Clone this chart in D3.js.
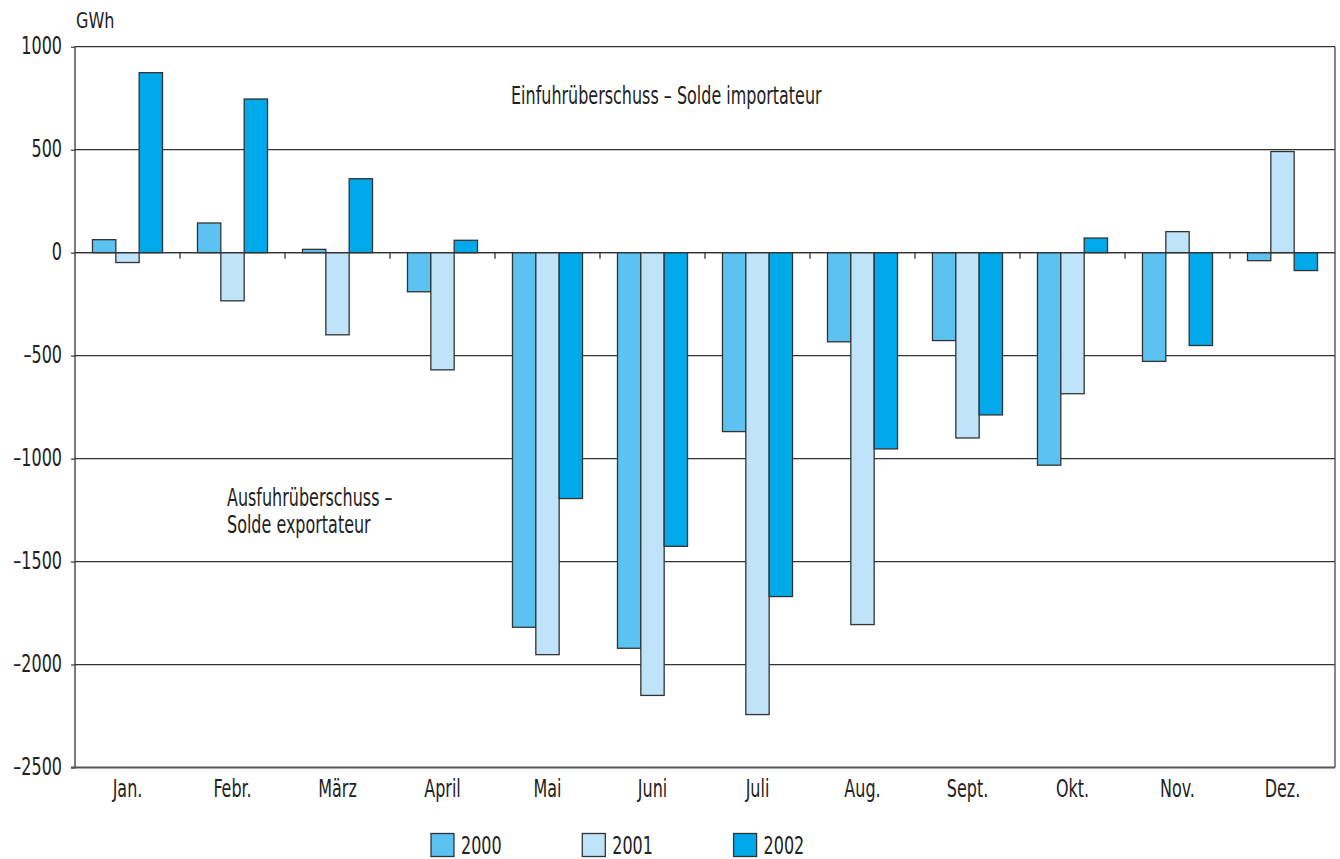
<!DOCTYPE html>
<html><head><meta charset="utf-8">
<script src="https://cdn.jsdelivr.net/npm/d3@7"></script>
<style>
body{margin:0;background:#fff;}
text{font-family:"DejaVu Sans Condensed","DejaVu Sans","Roboto",sans-serif;fill:#222;}
</style></head><body>
<svg id="c" width="1340" height="859"></svg>
<script>
const months = ["Jan.","Febr.","März","April","Mai","Juni","Juli","Aug.","Sept.","Okt.","Nov.","Dez."];
const years = ["2000","2001","2002"];
const v2000 = [63,144,16,-190,-1819,-1921,-869,-433,-427,-1032,-528,-39];
const v2001 = [-48,-234,-399,-569,-1952,-2150,-2243,-1806,-900,-685,102,491];
const v2002 = [874,746,359,60,-1194,-1426,-1670,-953,-788,71,-451,-87];
const yTicks = [1000,500,0,-500,-1000,-1500,-2000,-2500];
const colors = ["#5bc2f2","#bfe3f8","#00a9e9"];

const series = [v2000,v2001,v2002];
const svg = d3.select("#c");
const L=75,R=1335,T=46.7,B=767.5;
const x = d3.scaleBand().domain(months).range([L,R]).paddingInner(0.333).paddingOuter(0.1665);
const x0 = d3.scaleBand().domain(months).range([L,R]);
const xs = d3.scaleBand().domain(years).range([0,x.bandwidth()]);
const y = d3.scaleLinear().domain([-2500,1000]).range([B,T]);
const FS = "24px";

// gridlines
svg.append("g").selectAll("line").data(yTicks.filter(d=>d!==-2500&&d!==1000)).join("line")
  .attr("x1",L).attr("x2",R).attr("y1",d=>y(d)).attr("y2",d=>y(d))
  .attr("stroke","#333").attr("stroke-width",1.2);

// y axis
const ya = svg.append("g").attr("transform",`translate(${L},0)`)
  .call(d3.axisLeft(y).tickValues(yTicks).tickSize(4).tickPadding(9)
    .tickFormat(d=>d<0?"\u2013"+Math.abs(d):String(d)));
ya.select(".domain").remove();
ya.selectAll("line").attr("stroke","#333").attr("stroke-width",1.2);
ya.selectAll("text").style("font-size",FS).attr("fill","#222").attr("dy","0.3em").classed("cond",true);

// bars
const data=[];
months.forEach((m,i)=>years.forEach((yr,j)=>data.push({m,yr,v:series[j][i],j})));
svg.append("g").selectAll("rect").data(data).join("rect")
  .attr("x",d=>x(d.m)+xs(d.yr))
  .attr("width",xs.bandwidth())
  .attr("y",d=>y(Math.max(0,d.v)))
  .attr("height",d=>Math.abs(y(d.v)-y(0)))
  .attr("fill",d=>colors[d.j]).attr("stroke","#333").attr("stroke-width",1.3);

// zero line and category ticks
svg.append("line").attr("x1",L).attr("x2",R).attr("y1",y(0)).attr("y2",y(0)).attr("stroke","#333").attr("stroke-width",1.3);
svg.append("g").selectAll("line").data(months.slice(1)).join("line")
  .attr("x1",d=>x0(d)).attr("x2",d=>x0(d)).attr("y1",y(0)).attr("y2",y(0)+6)
  .attr("stroke","#333").attr("stroke-width",1.3);

// frame
svg.append("line").attr("x1",L).attr("x2",R).attr("y1",T).attr("y2",T).attr("stroke","#333").attr("stroke-width",1.3);
svg.append("line").attr("x1",R).attr("x2",R).attr("y1",T).attr("y2",B).attr("stroke","#444").attr("stroke-width",1.3);
svg.append("line").attr("x1",L).attr("x2",L).attr("y1",T).attr("y2",B).attr("stroke","#333").attr("stroke-width",1.3);
svg.append("line").attr("x1",L-4).attr("x2",R).attr("y1",B).attr("y2",B).attr("stroke","#555").attr("stroke-width",2);

// x labels
const xa = svg.append("g").attr("transform",`translate(0,${B})`)
  .call(d3.axisBottom(x0).tickSize(0).tickPadding(12));
xa.select(".domain").remove();
xa.selectAll("text").style("font-size",FS).attr("fill","#222").attr("dy","0").attr("y",30).classed("cond",true);

// unit label
svg.append("text").attr("x",76).attr("y",28).style("font-size","21px").classed("cond2",true).text("GWh");

// annotations
svg.append("text").attr("x",511).attr("y",104).style("font-size",FS).classed("cond",true).text("Einfuhrüberschuss \u2013 Solde importateur");
svg.append("text").attr("x",227).attr("y",506).style("font-size",FS).classed("cond",true).text("Ausfuhrüberschuss \u2013");
svg.append("text").attr("x",227).attr("y",533).style("font-size",FS).classed("cond",true).text("Solde exportateur");

// legend
const lg = svg.append("g").selectAll("g").data(years).join("g")
  .attr("transform",(d,i)=>`translate(${431+i*151.3},833.5)`);
lg.append("rect").attr("width",23).attr("height",23).attr("fill",(d,i)=>colors[i]).attr("stroke","#333").attr("stroke-width",1.3);
lg.append("text").attr("x",30).attr("y",20.5).style("font-size",FS).classed("cond",true).text(d=>d);

// condensed look: scale text horizontally around its anchor
function squeeze(sel, s){
  sel.each(function(){
    const ax = +this.getAttribute("x")||0, ay = +this.getAttribute("y")||0;
    this.setAttribute("transform",`translate(${ax},${ay}) scale(${s},1) translate(${-ax},${-ay})`);
  });
}
squeeze(svg.selectAll("text.cond"), 0.74);
squeeze(svg.selectAll("text.cond2"), 0.85);
</script></body></html>
